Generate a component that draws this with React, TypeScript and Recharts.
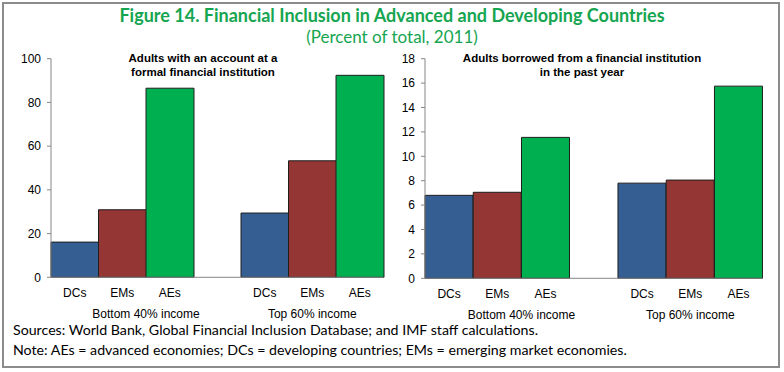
import { BarChart, Bar, XAxis, YAxis, Cell } from 'recharts';

const economies = ['DCs', 'EMs', 'AEs'];
const incomeGroups = ['Bottom 40% income', 'Top 60% income'];

// Adults with an account at a formal financial institution (percent)
const accountBottom40 = [16.1, 30.9, 86.5];
const accountTop60 = [29.4, 53.3, 92.4];

// Adults borrowed from a financial institution in the past year (percent)
const borrowedBottom40 = [6.8, 7.05, 11.55];
const borrowedTop60 = [7.8, 8.05, 15.75];

const accountTicks = [0, 20, 40, 60, 80, 100];
const borrowedTicks = [0, 2, 4, 6, 8, 10, 12, 14, 16, 18];

const economyColors = ['#355f92', '#943634', '#00b050'];

// one blank slot separates the two income groups
const buildRows = (bottom: number[], top: number[]) => [
  ...economies.map((name, i) => ({ name, value: bottom[i], color: economyColors[i], group: i === 1 ? 0 : -1, shift: 1 })),
  { name: '', value: null, color: 'none', group: -1, shift: 0 },
  ...economies.map((name, i) => ({ name, value: top[i], color: economyColors[i], group: i === 1 ? 1 : -1, shift: 0 })),
];

const FONT = '"Liberation Sans", Arial, sans-serif';

// category tick plus the income-group label under the middle of its slots
// (the first group also spans the blank slot, so its label sits half a slot to the right)
const makeTick = (rows: ReturnType<typeof buildRows>, band: number) => (props: any) => {
  const { x, y, payload, index } = props;
  const row = rows[index] ?? rows[payload?.index ?? 0];
  const gx = x + (row.shift ? band / 2 : 0);
  return (
    <g>
      <text x={x} y={y} dy="0.71em" textAnchor="middle" fontFamily={FONT} fontSize={12} fill="#000">
        {payload.value}
      </text>
      {row.group >= 0 && (
        <text x={gx} y={y + 21} dy="0.71em" textAnchor="middle" fontFamily={FONT} fontSize={12} fill="#000">
          {incomeGroups[row.group]}
        </text>
      )}
    </g>
  );
};

interface PanelProps {
  rows: ReturnType<typeof buildRows>;
  ticks: number[];
  width: number;
  height: number;
  yWidth: number;
  margin: { top: number; right: number; left: number; bottom: number };
}

const Panel = ({ rows, ticks, width, height, yWidth, margin }: PanelProps) => {
  const band = (width - margin.left - margin.right - yWidth) / rows.length;
  return (
    <BarChart width={width} height={height} data={rows} margin={margin} barCategoryGap={0} barGap={0}>
      <XAxis
        dataKey="name"
        interval={0}
        height={48}
        tickSize={0}
        tickMargin={11}
        tickLine={false}
        axisLine={{ stroke: '#868686' }}
        tick={makeTick(rows, band)}
      />
      <YAxis
        width={yWidth}
        domain={[ticks[0], ticks[ticks.length - 1]]}
        ticks={ticks}
        interval={0}
        tickSize={4}
        tickMargin={6}
        axisLine={{ stroke: '#868686' }}
        tickLine={{ stroke: '#868686' }}
        tick={{ fontFamily: FONT, fontSize: 12, fill: '#000' }}
      />
      <Bar dataKey="value" stroke="#1e1e1e" strokeWidth={1} isAnimationActive={false}>
        {rows.map((r, i) => (
          <Cell key={i} fill={r.color} />
        ))}
      </Bar>
    </BarChart>
  );
};

const panelTitle: React.CSSProperties = {
  position: 'absolute',
  textAlign: 'center',
  fontFamily: FONT,
  fontWeight: 'bold',
  fontSize: 11.5,
  lineHeight: '13.5px',
  color: '#000',
  whiteSpace: 'nowrap',
  transform: 'translateX(-50%)',
};

const footStyle: React.CSSProperties = {
  position: 'absolute',
  left: 13,
  fontFamily: 'Lato, "Noto Sans", sans-serif',
  fontSize: 14.2,
  color: '#000',
  whiteSpace: 'nowrap',
  lineHeight: '16px',
};

export default function App() {
  return (
    <div style={{ position: 'absolute', left: 0, top: 0, width: 784, height: 372, background: '#fff', overflow: 'hidden' }}>
      <div style={{ position: 'absolute', left: 2, top: 2, width: 774, height: 362, border: '2px solid #8c8c8c' }} />
      <div
        style={{
          position: 'absolute', left: 0, width: 784, top: 5, textAlign: 'center',
          fontFamily: 'Lato, "Noto Sans", sans-serif', fontWeight: 'bold', fontSize: 18, color: '#16a550', lineHeight: '20px',
        }}
      >
        Figure 14. Financial Inclusion in Advanced and Developing Countries
      </div>
      <div
        style={{
          position: 'absolute', left: 0, width: 784, top: 27, textAlign: 'center',
          fontFamily: 'Lato, "Noto Sans", sans-serif', fontSize: 17, color: '#16a550', lineHeight: '20px',
        }}
      >
        (Percent of total, 2011)
      </div>

      <div style={{ position: 'absolute', left: 0, top: 0 }}>
        <Panel
          rows={buildRows(accountBottom40, accountTop60)}
          ticks={accountTicks}
          width={395}
          height={330}
          yWidth={51}
          margin={{ top: 58.7, right: 11.5, left: 0, bottom: 4.7 }}
        />
      </div>
      <div style={{ position: 'absolute', left: 392, top: 0 }}>
        <Panel
          rows={buildRows(borrowedBottom40, borrowedTop60)}
          ticks={borrowedTicks}
          width={380}
          height={330}
          yWidth={33}
          margin={{ top: 58.7, right: 9.3, left: 0, bottom: 3.7 }}
        />
      </div>

      <div style={{ ...panelTitle, left: 203, top: 52 }}>
        Adults with an account at a<br />formal financial institution
      </div>
      <div style={{ ...panelTitle, left: 582, top: 52 }}>
        Adults borrowed from a financial institution<br />in the past year
      </div>

      <div style={{ ...footStyle, top: 322 }}>
        Sources: World Bank, Global Financial Inclusion Database; and IMF staff calculations.
      </div>
      <div style={{ ...footStyle, top: 342 }}>
        Note: AEs = advanced economies; DCs = developing countries; EMs = emerging market economies.
      </div>
    </div>
  );
}
